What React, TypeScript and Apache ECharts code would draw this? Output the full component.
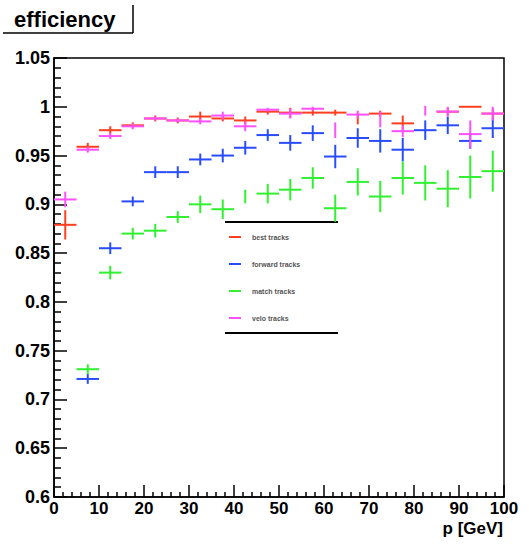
import React, { useEffect, useRef } from "react";
import * as echarts from "echarts";

// bin centres (GeV), bin half-width 2.5
const binCenters = [2.5, 7.5, 12.5, 17.5, 22.5, 27.5, 32.5, 37.5, 42.5, 47.5, 52.5, 57.5, 62.5, 67.5, 72.5, 77.5, 82.5, 87.5, 92.5, 97.5];
const binHalfWidth = 2.5;

const seriesNames = ["best tracks", "forward tracks", "match tracks", "velo tracks"];
const seriesColors = ["#ff4020", "#2a4cff", "#30f030", "#ff50ff"];

const bestValues = [0.879, 0.959, 0.976, 0.981, 0.988, 0.986, 0.990, 0.988, 0.986, 0.995, 0.994, 0.994, 0.994, 0.988, 0.993, 0.983, null, 0.995, 1.000, 0.993];
const bestErrors = [0.015, 0.004, 0.004, 0.003, 0.003, 0.003, 0.005, 0.003, 0.004, 0.003, 0.005, 0.003, 0.003, 0.006, 0.003, 0.008, 0, 0.004, 0, 0.005];
const bestNoXErr = [13];

const forwardValues = [null, 0.721, 0.855, 0.903, 0.933, 0.933, 0.946, 0.950, 0.958, 0.971, 0.963, 0.973, 0.949, 0.968, 0.965, 0.956, 0.976, 0.981, 0.965, 0.978];
const forwardErrors = [0, 0.005, 0.006, 0.005, 0.006, 0.006, 0.006, 0.007, 0.007, 0.006, 0.008, 0.008, 0.012, 0.010, 0.012, 0.012, 0.010, 0.009, 0.008, 0.010];
const forwardNoXErr: number[] = [];

const matchValues = [null, 0.731, 0.830, 0.870, 0.873, 0.887, 0.900, 0.895, 0.908, 0.911, 0.915, 0.927, 0.896, 0.923, 0.908, 0.927, 0.922, 0.916, 0.928, 0.934];
const matchErrors = [0, 0.005, 0.007, 0.006, 0.007, 0.006, 0.009, 0.010, 0.007, 0.010, 0.011, 0.011, 0.014, 0.014, 0.016, 0.017, 0.018, 0.019, 0.022, 0.021];
const matchNoXErr = [8];

const veloValues = [0.905, 0.956, 0.970, 0.980, 0.988, 0.986, 0.985, 0.991, 0.980, 0.997, 0.993, 0.998, 0.976, 0.992, 0.987, 0.975, 0.996, 0.995, 0.972, 0.993];
const veloErrors = [0.008, 0.003, 0.003, 0.003, 0.002, 0.002, 0.003, 0.004, 0.005, 0.002, 0.005, 0.002, 0.008, 0.004, 0.008, 0.006, 0.005, 0.005, 0.014, 0.007];
const veloNoXErr = [12, 14, 16];

const yTickLabels = ["0.6", "0.65", "0.7", "0.75", "0.8", "0.85", "0.9", "0.95", "1", "1.05"];

const FONT = "'Liberation Sans', Arial, Helvetica, sans-serif";

function buildData(values: (number | null)[], errors: number[], noX: number[]) {
  const out: number[][] = [];
  values.forEach((v, i) => {
    if (v === null) return;
    out.push([binCenters[i], v, errors[i], noX.includes(i) ? 0 : binHalfWidth]);
  });
  return out;
}

export default function App() {
  const ref = useRef<HTMLDivElement>(null);
  useEffect(() => {
    if (!ref.current) return;
    const chart = echarts.init(ref.current, null, { renderer: "svg" });

    const datasets = [
      buildData(bestValues, bestErrors, bestNoXErr),
      buildData(forwardValues, forwardErrors, forwardNoXErr),
      buildData(matchValues, matchErrors, matchNoXErr),
      buildData(veloValues, veloErrors, veloNoXErr),
    ];

    const series = datasets.map((data, si) => ({
      type: "custom",
      name: seriesNames[si],
      data,
      z: 2 + si,
      renderItem: (params: any, api: any) => {
        const x = api.value(0);
        const y = api.value(1);
        const e = api.value(2);
        const xe = api.value(3);
        const c = api.coord([x, y]);
        const left = api.coord([x - xe, y]);
        const right = api.coord([x + xe, y]);
        const top = api.coord([x, y + e]);
        const bot = api.coord([x, y - e]);
        const style = { stroke: seriesColors[si], lineWidth: 2 };
        const children: any[] = [];
        if (xe > 0) {
          children.push({ type: "line", shape: { x1: left[0], y1: c[1], x2: right[0], y2: c[1] }, style });
        }
        if (e > 0) {
          children.push({ type: "line", shape: { x1: c[0], y1: top[1], x2: c[0], y2: bot[1] }, style });
        }
        return { type: "group", children };
      },
    }));

    const legendX = 225;
    const legendRight = 338;
    const legendRows = [237, 264, 291, 318];
    const legendGraphics: any[] = [
      { type: "line", shape: { x1: legendX, y1: 222, x2: legendRight, y2: 222 }, style: { stroke: "#000", lineWidth: 2 } },
      { type: "line", shape: { x1: legendX, y1: 333, x2: legendRight, y2: 333 }, style: { stroke: "#000", lineWidth: 2 } },
    ];
    seriesNames.forEach((n, i) => {
      legendGraphics.push({ type: "line", shape: { x1: 229, y1: legendRows[i], x2: 241, y2: legendRows[i] }, style: { stroke: seriesColors[i], lineWidth: 2 } });
      legendGraphics.push({ type: "text", x: 252, y: legendRows[i], style: { text: n, fontSize: 7, fontFamily: FONT, fontWeight: "bold", fill: "#555", verticalAlign: "middle" } });
    });

    chart.setOption({
      animation: false,
      grid: { left: 54, right: 25, top: 58, bottom: 47, show: true, borderColor: "#000", borderWidth: 1.5, backgroundColor: "#fff" },
      xAxis: {
        type: "value", min: 0, max: 100, interval: 10,
        axisLine: { lineStyle: { color: "#000", width: 1.5 } },
        axisTick: { inside: true, length: 12, lineStyle: { color: "#000", width: 1.5 } },
        minorTick: { show: true, splitNumber: 5, length: 5, lineStyle: { color: "#000", width: 1.5 } },
        splitLine: { show: false },
        axisLabel: { color: "#000", fontFamily: FONT, fontWeight: "bold", fontSize: 17, margin: 3 },
      },
      yAxis: {
        type: "value", min: 0.6, max: 1.05, interval: 0.05,
        axisLine: { lineStyle: { color: "#000", width: 1.5 } },
        axisTick: { inside: true, length: 13, lineStyle: { color: "#000", width: 1.5 } },
        minorTick: { show: true, splitNumber: 5, length: 7, lineStyle: { color: "#000", width: 1.5 } },
        splitLine: { show: false },
        axisLabel: {
          color: "#000", fontFamily: FONT, fontWeight: "bold", fontSize: 18, margin: 4,
          formatter: (v: number) => {
            const idx = Math.round((v - 0.6) / 0.05);
            return yTickLabels[idx] ?? "";
          },
        },
      },
      series,
      graphic: [
        { type: "text", left: 14, top: 8, style: { text: "efficiency", fontSize: 22, fontFamily: FONT, fontWeight: "bold", fill: "#000" } },
        { type: "line", shape: { x1: 3, y1: 33, x2: 133, y2: 33 }, style: { stroke: "#000", lineWidth: 1.5 } },
        { type: "line", shape: { x1: 133, y1: 5, x2: 133, y2: 33 }, style: { stroke: "#000", lineWidth: 1.5 } },
        { type: "text", right: 26, top: 520, style: { text: "p [GeV]", fontSize: 17, fontFamily: FONT, fontWeight: "bold", fill: "#000" } },
        ...legendGraphics,
      ],
    });
    return () => chart.dispose();
  }, []);
  return <div ref={ref} style={{ width: 529, height: 544, position: "absolute", left: 0, top: 0 }} />;
}
